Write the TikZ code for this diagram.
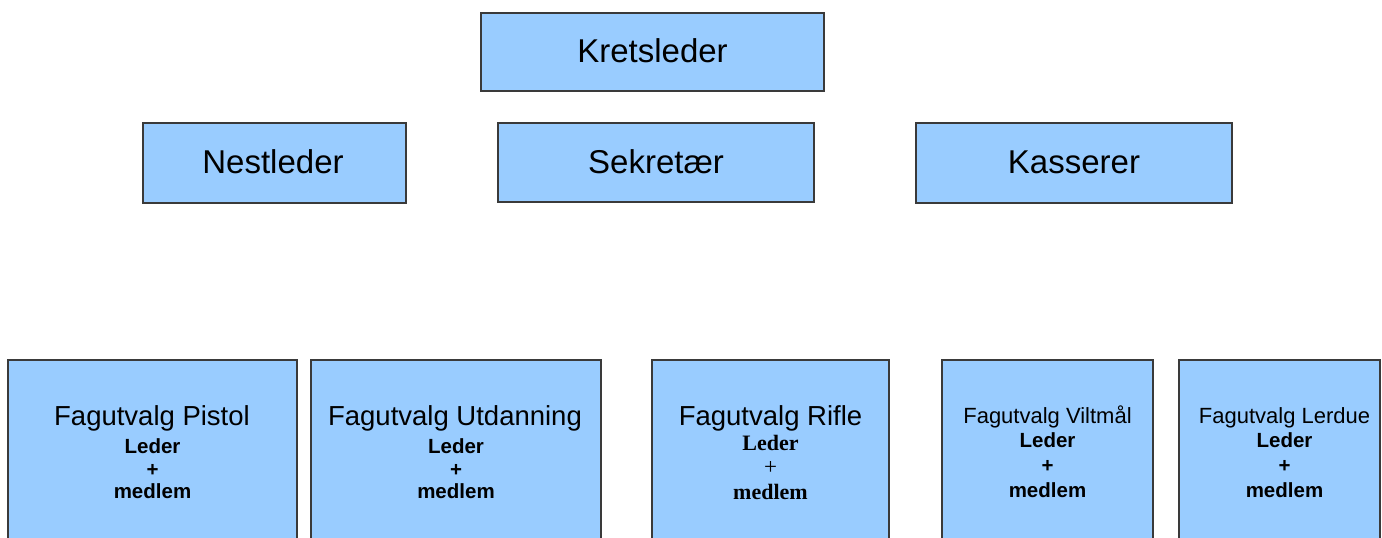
\documentclass[tikz,border=0pt]{standalone}
\usepackage{fontspec}
\setmainfont{Liberation Sans}
\newfontfamily\serifb{Liberation Serif}
\begin{document}
\begin{tikzpicture}[x=1pt,y=-1pt,
  box/.style={draw={rgb,255:red,58;green,58;blue,58},line width=1.2pt,fill={rgb,255:red,153;green,204;blue,255}},
  toptxt/.style={anchor=base,inner sep=0pt,font=\fontsize{33}{38}\selectfont},
  ttl/.style={anchor=base,inner sep=0pt,font=\fontsize{27.5}{32}\selectfont},
  ttls/.style={anchor=base,inner sep=0pt,font=\fontsize{22}{26}\selectfont},
  bl/.style={anchor=base,inner sep=0pt,font=\bfseries\fontsize{20.5}{24}\selectfont},
  blr/.style={anchor=base,inner sep=0pt,font=\serifb\bfseries\fontsize{22}{26}\selectfont},
  plr/.style={anchor=base,inner sep=0pt,font=\serifb\fontsize{23}{26}\selectfont}]
\useasboundingbox (0,0) rectangle (1382,538);
\clip (0,0) rectangle (1382,538);
% top boxes
\path[box] (481,13) rectangle (824,91) node[pos=0.5,draw=none,fill=none] (kb) {};
\node[toptxt] (kt) at (652.5,62) {Kretsleder};
\path[box] (143,123) rectangle (406,203) node[pos=0.5,draw=none,fill=none] (nb) {};
\node[toptxt] (nt) at (273,173) {Nestleder};
\path[box] (498,123) rectangle (814,202) node[pos=0.5,draw=none,fill=none] (sb) {};
\node[toptxt] (st) at (656,173) {Sekretær};
\path[box] (916,123) rectangle (1232,203) node[pos=0.5,draw=none,fill=none] (kab) {};
\node[toptxt] (kat) at (1074,173) {Kasserer};
% bottom boxes
\path[box] (8,360) rectangle (297,560) node[pos=0.5,draw=none,fill=none] (pb) {};
\node[ttl] (p1) at (152,425) {Fagutvalg Pistol};
\node[bl] (p2) at (152.5,453) {Leder};
\node[bl] (p3) at (152.5,476) {+};
\node[bl] (p4) at (152.5,498) {medlem};
\path[box] (311,360) rectangle (601,560) node[pos=0.5,draw=none,fill=none] (ub) {};
\node[ttl] (u1) at (455,425) {Fagutvalg Utdanning};
\node[bl] (u2) at (456,453) {Leder};
\node[bl] (u3) at (456,476) {+};
\node[bl] (u4) at (456,498) {medlem};
\path[box] (652,360) rectangle (889,560) node[pos=0.5,draw=none,fill=none] (rb) {};
\node[ttl] (r1) at (770.5,425) {Fagutvalg Rifle};
\node[blr] (r2) at (770.5,450) {Leder};
\node[plr] (r3) at (770.5,474) {+};
\node[blr] (r4) at (770.5,499) {medlem};
\path[box] (942,360) rectangle (1153,560) node[pos=0.5,draw=none,fill=none] (vb) {};
\node[ttls] (v1) at (1047.5,423) {Fagutvalg Viltmål};
\node[bl] (v2) at (1047.5,447) {Leder};
\node[bl] (v3) at (1047.5,472) {+};
\node[bl] (v4) at (1047.5,497) {medlem};
\path[box] (1179,360) rectangle (1380,560) node[pos=0.5,draw=none,fill=none] (lb) {};
\node[ttls] (l1) at (1284.5,423) {Fagutvalg Lerdue};
\node[bl] (l2) at (1284.5,447) {Leder};
\node[bl] (l3) at (1284.5,472) {+};
\node[bl] (l4) at (1284.5,497) {medlem};
\end{tikzpicture}
\end{document}
